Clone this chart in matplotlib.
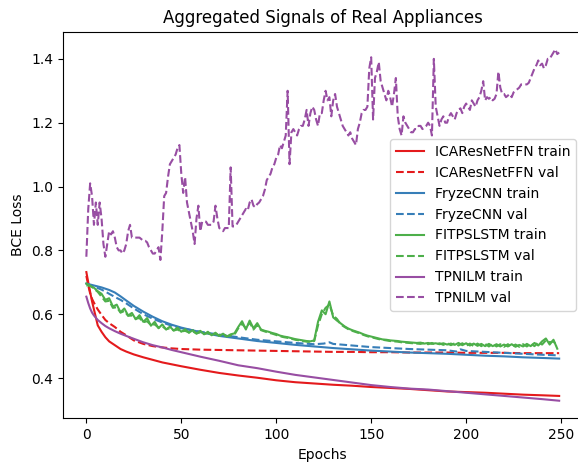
import matplotlib
matplotlib.use("Agg")
import matplotlib.pyplot as plt

# ---------------- data ----------------
smooth_epochs = [0, 1, 2, 3, 4, 5, 6, 8, 10, 12, 15, 18, 21, 25, 30, 35, 40, 45, 50,
                 60, 70, 80, 90, 100, 110, 120, 130, 140, 150, 160, 170, 180, 190,
                 200, 210, 220, 230, 240, 249]

ica_train = [0.732, 0.700, 0.670, 0.640, 0.615, 0.590, 0.565, 0.545, 0.528, 0.515,
             0.503, 0.491, 0.483, 0.474, 0.465, 0.457, 0.449, 0.443, 0.437,
             0.426, 0.416, 0.408, 0.401, 0.393, 0.387, 0.383, 0.379, 0.376, 0.372,
             0.369, 0.366, 0.362, 0.358, 0.356, 0.354, 0.351, 0.348, 0.346, 0.344]

ica_val = [0.720, 0.690, 0.665, 0.648, 0.636, 0.625, 0.615, 0.598, 0.582, 0.572,
           0.560, 0.545, 0.534, 0.518, 0.507, 0.500, 0.496, 0.493, 0.491,
           0.489, 0.488, 0.487, 0.486, 0.485, 0.484, 0.483, 0.482, 0.482, 0.481,
           0.481, 0.480, 0.480, 0.480, 0.479, 0.479, 0.479, 0.478, 0.478, 0.478]

tpn_train = [0.655, 0.635, 0.618, 0.605, 0.596, 0.589, 0.582, 0.572, 0.563, 0.556,
             0.547, 0.539, 0.532, 0.523, 0.512, 0.503, 0.496, 0.488, 0.481,
             0.467, 0.454, 0.440, 0.431, 0.420, 0.410, 0.402, 0.394, 0.386, 0.378,
             0.372, 0.367, 0.364, 0.359, 0.354, 0.349, 0.344, 0.339, 0.334, 0.329]

fry_train_epochs = [0, 2, 4, 6, 8, 10, 12, 15, 18, 21, 25, 30, 35, 40, 45, 50, 60, 70,
                    80, 90, 100, 110, 120, 130, 140, 150, 160, 170, 180, 190, 200,
                    210, 220, 230, 240, 249]
fry_train = [0.696, 0.693, 0.690, 0.687, 0.684, 0.680, 0.676, 0.668, 0.656, 0.643,
             0.626, 0.608, 0.592, 0.578, 0.567, 0.558, 0.544, 0.532, 0.524, 0.516,
             0.510, 0.504, 0.499, 0.494, 0.490, 0.486, 0.483, 0.480, 0.478, 0.476,
             0.473, 0.470, 0.468, 0.465, 0.463, 0.461]

fry_val_epochs = [0, 2, 4, 6, 8, 10, 12, 15, 18, 21, 25, 30, 35, 40, 45, 50, 60, 70,
                  80, 90, 100, 110, 120, 125, 128, 130, 140, 150, 160, 170, 180, 190,
                  195, 197, 200, 210, 220, 230, 240, 249]
fry_val = [0.695, 0.690, 0.686, 0.682, 0.677, 0.671, 0.664, 0.654, 0.645, 0.634,
           0.618, 0.600, 0.586, 0.574, 0.564, 0.556, 0.545, 0.536, 0.528, 0.520,
           0.515, 0.510, 0.506, 0.508, 0.512, 0.507, 0.502, 0.497, 0.494, 0.491,
           0.489, 0.487, 0.483, 0.490, 0.485, 0.482, 0.479, 0.476, 0.473, 0.471]

even_epochs = list(range(0, 250, 2))
fit_train = [0.696, 0.688, 0.683, 0.672, 0.664, 0.645, 0.650, 0.624, 0.630, 0.606,
             0.618, 0.596, 0.604, 0.584, 0.597, 0.576, 0.588, 0.564, 0.576, 0.556,
             0.568, 0.552, 0.561, 0.549, 0.558, 0.545, 0.553, 0.542, 0.550, 0.539,
             0.548, 0.537, 0.545, 0.534, 0.542, 0.532, 0.539, 0.530, 0.537, 0.540,
             0.560, 0.578, 0.552, 0.580, 0.556, 0.572, 0.552, 0.548, 0.545, 0.541,
             0.538, 0.533, 0.530, 0.528, 0.525, 0.522, 0.520, 0.518, 0.516, 0.515,
             0.518, 0.576, 0.612, 0.600, 0.640, 0.590, 0.580, 0.571, 0.562, 0.555,
             0.550, 0.546, 0.542, 0.537, 0.533, 0.530, 0.527, 0.524, 0.521, 0.520,
             0.518, 0.517, 0.516, 0.514, 0.513, 0.512, 0.511, 0.510, 0.511, 0.508,
             0.510, 0.507, 0.509, 0.506, 0.509, 0.505, 0.508, 0.504, 0.510, 0.503,
             0.509, 0.502, 0.508, 0.501, 0.507, 0.500, 0.507, 0.500, 0.506, 0.499,
             0.505, 0.499, 0.506, 0.498, 0.504, 0.499, 0.507, 0.500, 0.510, 0.502,
             0.515, 0.524, 0.505, 0.520, 0.492]

fit_val = [0.690, 0.690, 0.680, 0.670, 0.655, 0.640, 0.642, 0.620, 0.622, 0.605,
           0.610, 0.595, 0.596, 0.586, 0.588, 0.575, 0.578, 0.566, 0.568, 0.558,
           0.562, 0.553, 0.556, 0.549, 0.552, 0.546, 0.548, 0.543, 0.546, 0.540,
           0.543, 0.538, 0.541, 0.535, 0.538, 0.533, 0.535, 0.531, 0.533, 0.536,
           0.556, 0.570, 0.556, 0.574, 0.552, 0.566, 0.550, 0.546, 0.542, 0.539,
           0.535, 0.531, 0.528, 0.526, 0.523, 0.520, 0.518, 0.516, 0.514, 0.513,
           0.516, 0.565, 0.600, 0.620, 0.630, 0.596, 0.585, 0.568, 0.560, 0.553,
           0.548, 0.544, 0.540, 0.535, 0.531, 0.528, 0.525, 0.522, 0.520, 0.518,
           0.516, 0.515, 0.514, 0.512, 0.511, 0.510, 0.509, 0.508, 0.507, 0.510,
           0.506, 0.510, 0.505, 0.509, 0.504, 0.509, 0.503, 0.509, 0.502, 0.509,
           0.501, 0.508, 0.500, 0.508, 0.500, 0.507, 0.499, 0.507, 0.499, 0.506,
           0.498, 0.506, 0.498, 0.505, 0.498, 0.506, 0.499, 0.508, 0.500, 0.512,
           0.505, 0.518, 0.512, 0.515, 0.500]

all_epochs = list(range(250))
tpn_val = [
    0.78, 0.93, 1.01, 0.97, 0.88, 0.95, 0.88, 0.95, 0.90, 0.82,
    0.78, 0.82, 0.86, 0.85, 0.86, 0.84, 0.81, 0.80, 0.80, 0.79,
    0.80, 0.82, 0.86, 0.88, 0.84, 0.84, 0.84, 0.84, 0.84, 0.835,
    0.83, 0.83, 0.825, 0.81, 0.80, 0.79, 0.79, 0.80, 0.81, 0.77,
    0.86, 0.97, 0.98, 1.03, 1.07, 1.08, 1.09, 1.10, 1.12, 1.13,
    1.04, 0.98, 1.03, 0.95, 0.92, 0.89, 0.86, 0.82, 0.90, 0.94,
    0.86, 0.89, 0.89, 0.89, 0.88, 0.88, 0.88, 0.89, 0.94, 0.90,
    0.87, 0.865, 0.86, 0.87, 0.87, 0.87, 1.06, 0.875, 0.875, 0.88,
    0.89, 0.90, 0.91, 0.92, 0.93, 0.925, 0.95, 0.96, 0.94, 0.935,
    0.945, 0.95, 0.96, 0.97, 0.99, 1.02, 1.03, 1.04, 1.06, 1.07,
    1.09, 1.10, 1.13, 1.12, 1.14, 1.16, 1.30, 1.07, 1.17, 1.18,
    1.17, 1.16, 1.18, 1.19, 1.19, 1.21, 1.24, 1.19, 1.23, 1.25,
    1.24, 1.21, 1.19, 1.23, 1.23, 1.27, 1.30, 1.27, 1.28, 1.22,
    1.27, 1.29, 1.25, 1.23, 1.21, 1.19, 1.18, 1.17, 1.16, 1.17,
    1.15, 1.14, 1.13, 1.18, 1.20, 1.23, 1.24, 1.24, 1.25, 1.37,
    1.405, 1.21, 1.34, 1.36, 1.39, 1.33, 1.31, 1.29, 1.27, 1.30,
    1.28, 1.25, 1.29, 1.34, 1.22, 1.18, 1.16, 1.22, 1.20, 1.19,
    1.18, 1.17, 1.17, 1.18, 1.18, 1.19, 1.19, 1.18, 1.185, 1.19,
    1.20, 1.19, 1.16, 1.40, 1.25, 1.22, 1.19, 1.21, 1.22, 1.20,
    1.20, 1.22, 1.23, 1.22, 1.21, 1.23, 1.24, 1.245, 1.23, 1.25,
    1.26, 1.25, 1.24, 1.27, 1.26, 1.25, 1.27, 1.28, 1.30, 1.33,
    1.27, 1.28, 1.275, 1.28, 1.27, 1.275, 1.29, 1.36, 1.31, 1.29,
    1.29, 1.28, 1.285, 1.29, 1.28, 1.295, 1.30, 1.305, 1.31, 1.32,
    1.32, 1.32, 1.32, 1.325, 1.34, 1.355, 1.37, 1.38, 1.395, 1.38,
    1.385, 1.37, 1.38, 1.40, 1.40, 1.41, 1.42, 1.43, 1.415, 1.42]

# ---------------- plot ----------------
RED, BLUE, GREEN, PURPLE = "#e41a1c", "#377eb8", "#4daf4a", "#984ea3"

fig = plt.figure(figsize=(5.78, 4.67), dpi=100)
ax = fig.add_axes([0.1085, 0.1043, 0.8998, 0.8278])

ax.plot(smooth_epochs, ica_train, color=RED, ls="-", label="ICAResNetFFN train")
ax.plot(smooth_epochs, ica_val, color=RED, ls="--", label="ICAResNetFFN val")
ax.plot(fry_train_epochs, fry_train, color=BLUE, ls="-", label="FryzeCNN train")
ax.plot(fry_val_epochs, fry_val, color=BLUE, ls="--", label="FryzeCNN val")
ax.plot(even_epochs, fit_train, color=GREEN, ls="-", label="FITPSLSTM train")
ax.plot(even_epochs, fit_val, color=GREEN, ls="--", label="FITPSLSTM val")
ax.plot(smooth_epochs, tpn_train, color=PURPLE, ls="-", label="TPNILM train")
ax.plot(all_epochs, tpn_val, color=PURPLE, ls="--", label="TPNILM val")

ax.set_title("Aggregated Signals of Real Appliances")
ax.set_xlabel("Epochs")
ax.set_ylabel("BCE Loss")
ax.legend(loc="center right")

fig.savefig("out.png", dpi=100)
